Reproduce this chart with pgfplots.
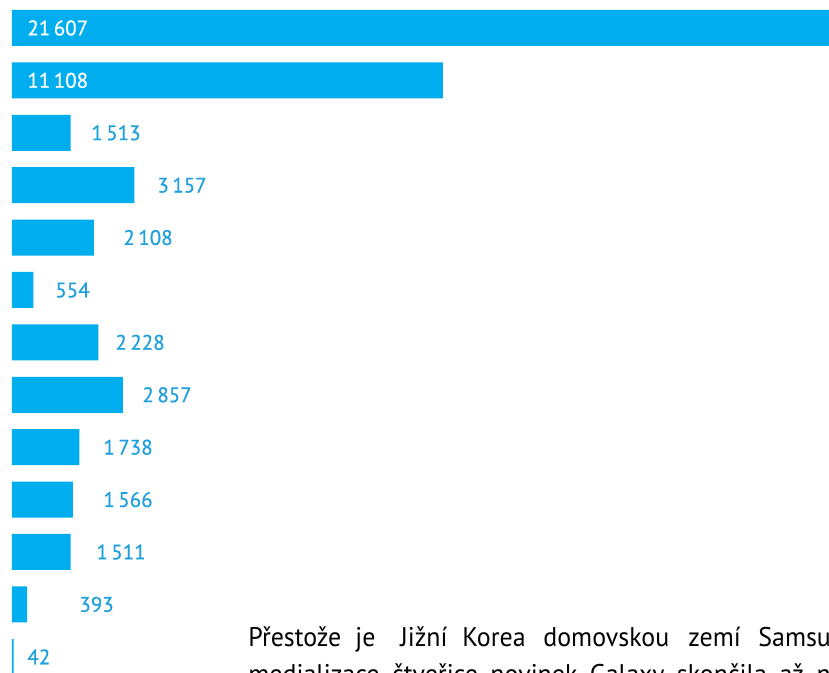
\documentclass[border=0pt]{standalone}
\usepackage{fontspec}
\setmainfont{PT Sans}
\newfontface\lblfont{PT Sans}[FakeBold=0.6]
\usepackage{pgfplots}
\pgfplotsset{compat=1.18}
\definecolor{barblue}{HTML}{00AEEF}
\definecolor{lblblue}{HTML}{1FA0DC}
\newcommand{\wrd}[2]{\makebox[#1][l]{\scalebox{0.96}[1]{#2}}}
\begin{document}
\begin{tikzpicture}
\useasboundingbox (0,0) rectangle (414.5pt,336.5pt);
\clip (0,0) rectangle (414.5pt,336.5pt);
\begin{axis}[
  at={(0,0)}, anchor=south west,
  scale only axis, width=414.5pt, height=336.5pt,
  xmin=-309, xmax=21057, ymin=-12.309, ymax=0.534,
  axis lines=none, clip=true,
]
% bars
\addplot[xbar, bar width=18pt, fill=barblue, draw=none] coordinates {
(21607,0) (11108,-1) (1513,-2) (3157,-3) (2108,-4) (554,-5) (2228,-6)
(2857,-7) (1738,-8) (1566,-9) (1511,-10) (393,-11) (42,-12)
};
% labels inside the two long bars
\addplot[only marks, mark=none, nodes near coords, point meta=explicit symbolic,
  nodes near coords style={anchor=west, inner sep=0pt, white, font=\lblfont\fontsize{10.5}{12}\selectfont}]
  coordinates {(387,0) [21\,607] (387,-1) [11\,108]};
% labels beside the other bars
\addplot[only marks, mark=none, nodes near coords, point meta=explicit symbolic,
  nodes near coords style={anchor=west, inner sep=0pt, lblblue, font=\lblfont\fontsize{10.5}{12}\selectfont}]
  coordinates {
(2036,-2) [1\,513] (3737,-3) [3\,157] (2861,-4) [2\,108] (1108,-5) [554]
(2655,-6) [2\,228] (3351,-7) [2\,857] (2345,-8) [1\,738] (2345,-9) [1\,566]
(2165,-10) [1\,511] (1727,-11) [393] (387,-12) [42]
};
\end{axis}
\node[anchor=base west, inner sep=0pt, font=\fontsize{13.5}{16}\selectfont] at (124pt,13pt)
  {\wrd{53.5pt}{Přestože}\wrd{22.5pt}{je}\wrd{31pt}{Jižní}\wrd{40.5pt}{Korea}\wrd{72.5pt}{domovskou}\wrd{35pt}{zemí}\wrd{60pt}{Samsungu,}};
\node[anchor=base west, inner sep=0pt, font=\fontsize{13.5}{16}\selectfont] at (124pt,-5.5pt)
  {\scalebox{0.96}[1]{\makebox[310pt][s]{medializace čtveřice novinek Galaxy skončila až na}}};
\end{tikzpicture}
\end{document}
